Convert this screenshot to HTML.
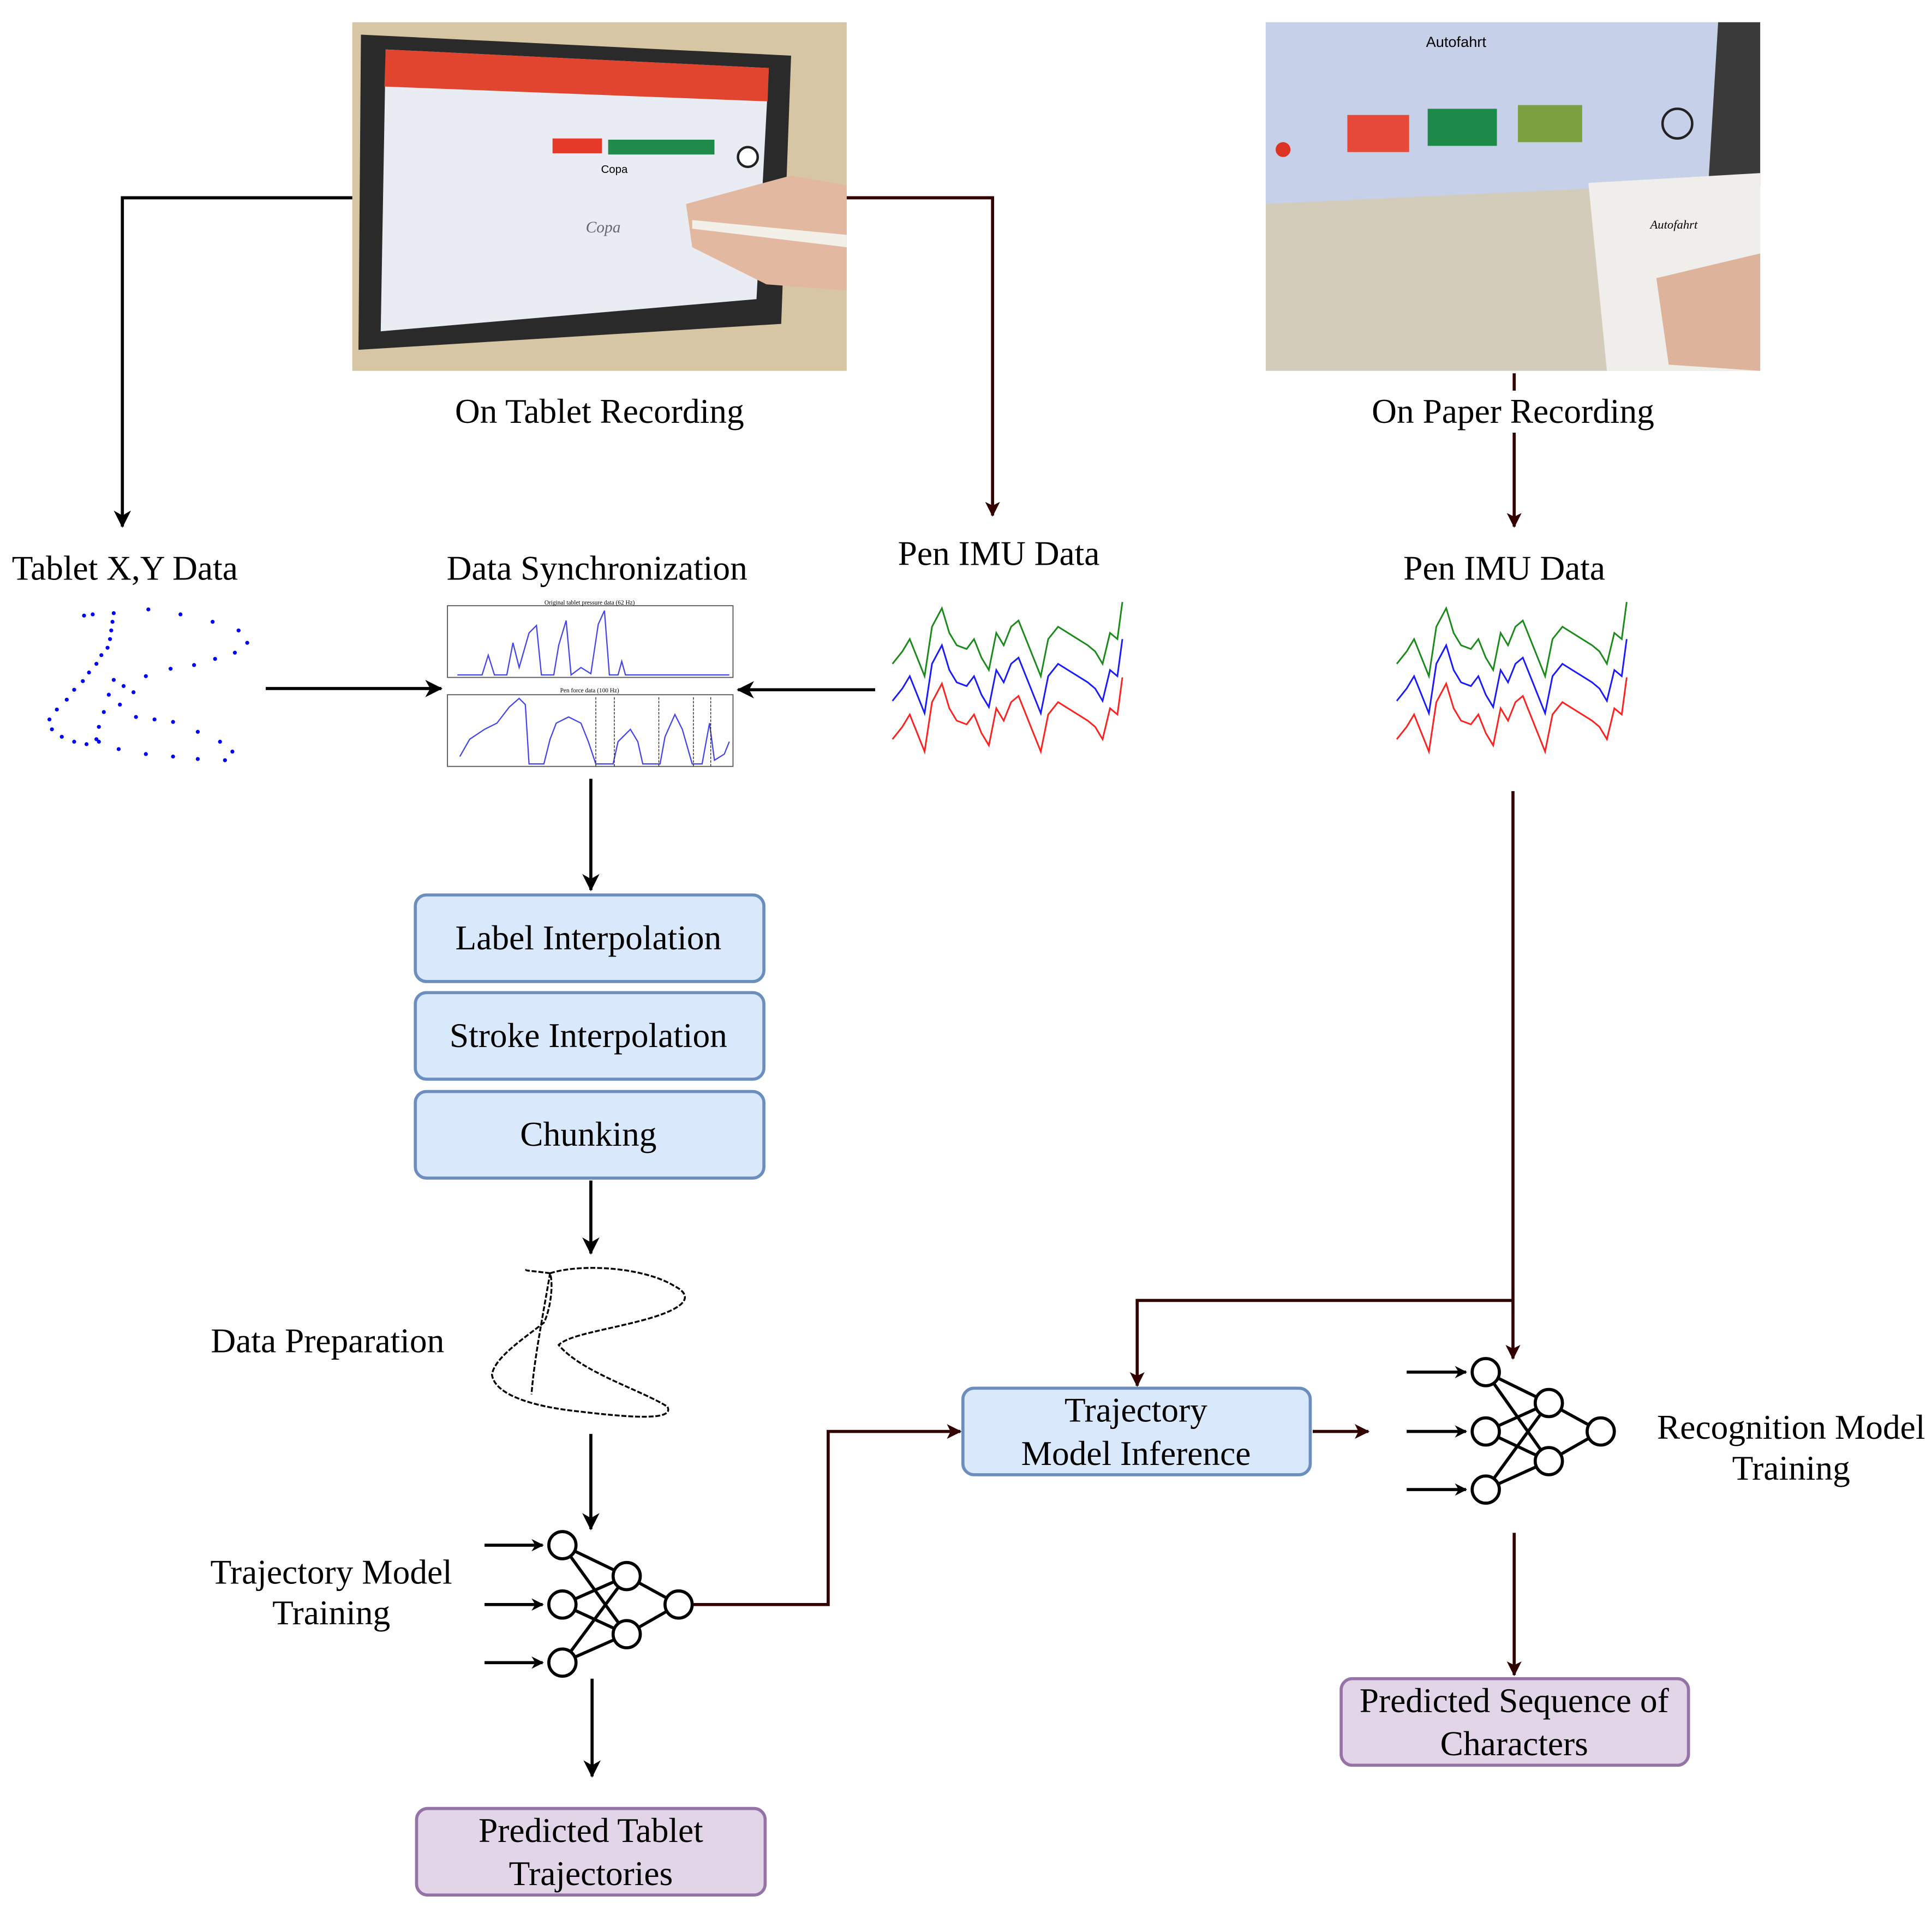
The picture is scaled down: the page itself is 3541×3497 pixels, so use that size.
<!DOCTYPE html>
<html><head><meta charset="utf-8"><style>
html,body{margin:0;padding:0;background:#fff;}
svg{display:block;}
text{font-family:"Liberation Serif",serif;fill:#000;}
</style></head><body>
<svg width="3541" height="3497" viewBox="0 0 1563 1543.5" preserveAspectRatio="none" xmlns="http://www.w3.org/2000/svg">
<defs>
<marker id="ab" markerWidth="10" markerHeight="10" refX="9" refY="5" orient="auto" markerUnits="userSpaceOnUse"><path d="M0,0 L10,5 L0,10 L3,5 z" fill="#000"/></marker>
<marker id="ar" markerWidth="12" markerHeight="12" refX="11" refY="6" orient="auto" markerUnits="userSpaceOnUse"><path d="M0,0 L12,6 L0,12 L3,6 z" fill="#330000"/></marker>
<marker id="ab2" markerWidth="14" markerHeight="14" refX="13" refY="7" orient="auto" markerUnits="userSpaceOnUse"><path d="M0,0 L14,7 L0,14 L4,7 z" fill="#000"/></marker>
<path id="sig" d="M0,50 L8,40 L14,30 L20,45 L26,60 L32,20 L40,5 L46,25 L52,35 L60,38 L66,30 L72,45 L78,55 L84,25 L90,35 L96,20 L102,15 L108,30 L114,45 L120,60 L126,30 L134,20 L142,25 L150,30 L158,35 L164,40 L170,50 L176,25 L182,30 L186,0" fill="none" stroke-width="1.3"/>
</defs>

<!-- Photo 1 -->
<rect x="285" y="18" width="400" height="282" fill="#d6c6a4"/>
<polygon points="292,28 640,45 632,262 290,283" fill="#2a2a2a"/>
<polygon points="312,40 622,55 612,242 308,268" fill="#e9ecf3"/>
<polygon points="312,40 622,55 621,82 311,70" fill="#e2452f"/>
<rect x="447" y="112" width="40" height="12" fill="#e53a2a"/>
<rect x="492" y="113" width="86" height="12" fill="#1f8a4a"/>
<text x="497" y="140" font-size="9" text-anchor="middle" style="font-family:'Liberation Sans',sans-serif">Copa</text>
<text x="488" y="188" font-size="13" text-anchor="middle" style="font-family:'Liberation Serif',serif;font-style:italic;fill:#667">Copa</text>
<polygon points="555,165 640,142 685,150 685,235 620,230 560,200" fill="#e2b8a0"/>
<polygon points="560,178 685,190 685,200 560,185" fill="#f3f0ea"/>
<circle cx="605" cy="127" r="8" fill="#fff" stroke="#222" stroke-width="2"/>

<!-- Photo 2 -->
<rect x="1024" y="18" width="400" height="282" fill="#d4ccba"/>
<polygon points="1024,18 1390,18 1382,148 1024,165" fill="#c6d0e8"/>
<polygon points="1390,18 1424,18 1424,150 1382,150" fill="#3a3a3a"/>
<text x="1178" y="38" font-size="12" text-anchor="middle" style="font-family:'Liberation Sans',sans-serif">Autofahrt</text>
<rect x="1090" y="93" width="50" height="30" fill="#e84a3a"/>
<rect x="1155" y="88" width="56" height="30" fill="#1e8a4a"/>
<rect x="1228" y="85" width="52" height="30" fill="#7aa040"/>
<circle cx="1357" cy="100" r="12" fill="none" stroke="#222" stroke-width="2"/>
<circle cx="1038" cy="121" r="6" fill="#d32"/>
<polygon points="1285,148 1424,140 1424,300 1300,300" fill="#efeeeb"/>
<text x="1335" y="185" font-size="10" fill="#333" style="font-style:italic">Autofahrt</text>
<polygon points="1340,225 1424,205 1424,300 1350,295" fill="#ddb49b"/>

<text x="485" y="342" font-size="28" text-anchor="middle">On Tablet Recording</text>
<text x="1224" y="342" font-size="28" text-anchor="middle">On Paper Recording</text>

<!-- top arrows -->
<polyline points="285,160 99,160 99,426" fill="none" stroke="#000" stroke-width="2.5" marker-end="url(#ab2)"/>
<polyline points="685,160 803,160 803,417" fill="none" stroke="#330000" stroke-width="2.5" marker-end="url(#ar)"/>
<line x1="1225" y1="302" x2="1225" y2="316" stroke="#330000" stroke-width="2.5"/>
<line x1="1225" y1="350" x2="1225" y2="426" stroke="#330000" stroke-width="2.5" marker-end="url(#ar)"/>

<text x="101" y="469" font-size="28" text-anchor="middle">Tablet X,Y Data</text>
<text x="483" y="469" font-size="28" text-anchor="middle">Data Synchronization</text>
<text x="808" y="457" font-size="28" text-anchor="middle">Pen IMU Data</text>
<text x="1217" y="469" font-size="28" text-anchor="middle">Pen IMU Data</text>

<!-- scatter -->
<g fill="#0000ff">
<circle cx="68" cy="498" r="1.6"/><circle cx="75" cy="497" r="1.6"/><circle cx="92" cy="496" r="1.6"/><circle cx="91" cy="503" r="1.6"/><circle cx="90" cy="510" r="1.6"/><circle cx="89" cy="517" r="1.6"/><circle cx="87" cy="524" r="1.6"/><circle cx="82" cy="530" r="1.6"/><circle cx="78" cy="537" r="1.6"/><circle cx="72" cy="544" r="1.6"/><circle cx="67" cy="551" r="1.6"/><circle cx="60" cy="558" r="1.6"/><circle cx="54" cy="566" r="1.6"/><circle cx="46" cy="574" r="1.6"/><circle cx="40" cy="582" r="1.6"/><circle cx="42" cy="590" r="1.6"/><circle cx="50" cy="596" r="1.6"/><circle cx="60" cy="600" r="1.6"/><circle cx="70" cy="602" r="1.6"/><circle cx="78" cy="598" r="1.6"/><circle cx="80" cy="588" r="1.6"/><circle cx="84" cy="576" r="1.6"/><circle cx="88" cy="562" r="1.6"/><circle cx="92" cy="550" r="1.6"/><circle cx="100" cy="555" r="1.6"/><circle cx="108" cy="560" r="1.6"/><circle cx="118" cy="547" r="1.6"/><circle cx="138" cy="541" r="1.6"/><circle cx="157" cy="538" r="1.6"/><circle cx="174" cy="533" r="1.6"/><circle cx="190" cy="528" r="1.6"/><circle cx="200" cy="520" r="1.6"/><circle cx="193" cy="510" r="1.6"/><circle cx="172" cy="503" r="1.6"/><circle cx="146" cy="497" r="1.6"/><circle cx="120" cy="493" r="1.6"/><circle cx="97" cy="570" r="1.6"/><circle cx="110" cy="580" r="1.6"/><circle cx="125" cy="582" r="1.6"/><circle cx="140" cy="584" r="1.6"/><circle cx="160" cy="592" r="1.6"/><circle cx="178" cy="600" r="1.6"/><circle cx="188" cy="608" r="1.6"/><circle cx="182" cy="615" r="1.6"/><circle cx="160" cy="614" r="1.6"/><circle cx="140" cy="612" r="1.6"/><circle cx="118" cy="610" r="1.6"/><circle cx="96" cy="606" r="1.6"/><circle cx="80" cy="600" r="1.6"/>
</g>
<line x1="215" y1="557" x2="357" y2="557" stroke="#000" stroke-width="2.5" marker-end="url(#ab2)"/>
<line x1="708" y1="558" x2="597" y2="558" stroke="#000" stroke-width="2.5" marker-end="url(#ab2)"/>

<!-- sync plot -->
<rect x="362" y="490" width="231" height="58" fill="none" stroke="#555" stroke-width="0.8"/>
<text x="477" y="489" font-size="5" text-anchor="middle">Original tablet pressure data (62 Hz)</text>
<polyline points="370,546 390,546 395,530 400,546 410,546 415,520 420,540 428,512 434,506 438,546 448,546 452,522 458,502 462,546 470,540 478,545 484,505 489,494 493,546 500,546 503,535 506,546 590,546" fill="none" stroke="#4444ee" stroke-width="1"/>
<rect x="362" y="562" width="231" height="58" fill="none" stroke="#555" stroke-width="0.8"/>
<text x="477" y="560" font-size="5" text-anchor="middle">Pen force data (100 Hz)</text>
<polyline points="372,612 380,598 392,590 402,585 412,572 420,565 425,570 428,618 440,618 445,598 450,585 460,580 470,585 476,600 482,618 496,618 500,600 510,590 516,600 520,618 534,618 538,596 546,578 552,590 560,618 568,618 574,585 578,615 586,610 590,600" fill="none" stroke="#4444ee" stroke-width="1"/>
<g stroke="#222" stroke-width="0.6" stroke-dasharray="2,1"><line x1="482" y1="564" x2="482" y2="620"/><line x1="497" y1="564" x2="497" y2="620"/><line x1="533" y1="564" x2="533" y2="620"/><line x1="561" y1="564" x2="561" y2="620"/><line x1="575" y1="564" x2="575" y2="620"/></g>

<!-- IMU signals -->
<use href="#sig" x="722" y="487" stroke="#1a8a1a"/>
<use href="#sig" x="722" y="517" stroke="#1a1aff"/>
<use href="#sig" x="722" y="548" stroke="#ff2020"/>
<use href="#sig" x="1130" y="487" stroke="#1a8a1a"/>
<use href="#sig" x="1130" y="517" stroke="#1a1aff"/>
<use href="#sig" x="1130" y="548" stroke="#ff2020"/>

<line x1="478" y1="630" x2="478" y2="720" stroke="#000" stroke-width="2.5" marker-end="url(#ab2)"/>

<!-- boxes -->
<g fill="#dae8fc" stroke="#6c8ebf" stroke-width="2.5">
<rect x="336" y="724" width="282" height="70" rx="9"/>
<rect x="336" y="803" width="282" height="70" rx="9"/>
<rect x="336" y="883" width="282" height="70" rx="9"/>
<rect x="779" y="1123" width="281" height="70" rx="9"/>
</g>
<text x="476" y="768" font-size="28" text-anchor="middle">Label Interpolation</text>
<text x="476" y="847" font-size="28" text-anchor="middle">Stroke Interpolation</text>
<text x="476" y="927" font-size="28" text-anchor="middle">Chunking</text>
<text x="919" y="1150" font-size="28" text-anchor="middle">Trajectory</text>
<text x="919" y="1185" font-size="28" text-anchor="middle">Model Inference</text>

<line x1="478" y1="955" x2="478" y2="1014" stroke="#000" stroke-width="2.5" marker-end="url(#ab2)"/>

<!-- scribble -->
<path d="M445,1030 C470,1022 520,1025 545,1040 C565,1050 550,1060 520,1068 C490,1076 460,1080 452,1088 C470,1110 520,1125 540,1138 C545,1148 520,1148 470,1142 C430,1138 400,1128 398,1112 C400,1098 425,1082 440,1070 C445,1060 448,1040 445,1030 C440,1060 432,1100 430,1128 M445,1030 C430,1028 424,1028 426,1027" fill="none" stroke="#000" stroke-width="1.5" stroke-dasharray="4,1.5"/>
<text x="265" y="1094" font-size="28" text-anchor="middle">Data Preparation</text>

<line x1="478" y1="1160" x2="478" y2="1237" stroke="#000" stroke-width="2.5" marker-end="url(#ab2)"/>

<!-- NN1 -->
<g stroke="#000" stroke-width="2.5" fill="none">
<line x1="392" y1="1250" x2="439" y2="1250" marker-end="url(#ab)"/>
<line x1="392" y1="1298" x2="439" y2="1298" marker-end="url(#ab)"/>
<line x1="392" y1="1345" x2="439" y2="1345" marker-end="url(#ab)"/>
<line x1="455" y1="1250" x2="507" y2="1275"/><line x1="455" y1="1250" x2="507" y2="1322"/>
<line x1="455" y1="1298" x2="507" y2="1275"/><line x1="455" y1="1298" x2="507" y2="1322"/>
<line x1="455" y1="1345" x2="507" y2="1275"/><line x1="455" y1="1345" x2="507" y2="1322"/>
<line x1="507" y1="1275" x2="549" y2="1298"/><line x1="507" y1="1322" x2="549" y2="1298"/>
</g>
<g stroke="#000" stroke-width="2.5" fill="#fff">
<circle cx="455" cy="1250" r="11"/><circle cx="455" cy="1298" r="11"/><circle cx="455" cy="1345" r="11"/>
<circle cx="507" cy="1275" r="11"/><circle cx="507" cy="1322" r="11"/><circle cx="549" cy="1298" r="11"/>
</g>
<text x="268" y="1281" font-size="28" text-anchor="middle">Trajectory Model</text>
<text x="268" y="1314" font-size="28" text-anchor="middle">Training</text>

<line x1="479" y1="1358" x2="479" y2="1437" stroke="#000" stroke-width="2.5" marker-end="url(#ab2)"/>

<g fill="#e1d5e7" stroke="#9673a6" stroke-width="2.5">
<rect x="337" y="1463" width="282" height="70" rx="9"/>
<rect x="1085" y="1358" width="281" height="70" rx="9"/>
</g>
<text x="478" y="1490" font-size="28" text-anchor="middle">Predicted Tablet</text>
<text x="478" y="1525" font-size="28" text-anchor="middle">Trajectories</text>
<text x="1225" y="1385" font-size="28" text-anchor="middle">Predicted Sequence of</text>
<text x="1225" y="1420" font-size="28" text-anchor="middle">Characters</text>

<!-- brown connectors -->
<polyline points="561,1298 670,1298 670,1158 777,1158" fill="none" stroke="#330000" stroke-width="2.5" marker-end="url(#ar)"/>
<line x1="1062" y1="1158" x2="1107" y2="1158" stroke="#330000" stroke-width="2.5" marker-end="url(#ar)"/>
<line x1="1224" y1="640" x2="1224" y2="1099" stroke="#330000" stroke-width="2.5" marker-end="url(#ar)"/>
<polyline points="1224,1052 920,1052 920,1121" fill="none" stroke="#330000" stroke-width="2.5" marker-end="url(#ar)"/>
<line x1="1225" y1="1240" x2="1225" y2="1355" stroke="#330000" stroke-width="2.5" marker-end="url(#ar)"/>

<!-- NN2 -->
<g stroke="#000" stroke-width="2.5" fill="none">
<line x1="1138" y1="1110" x2="1186" y2="1110" marker-end="url(#ab)"/>
<line x1="1138" y1="1158" x2="1186" y2="1158" marker-end="url(#ab)"/>
<line x1="1138" y1="1205" x2="1186" y2="1205" marker-end="url(#ab)"/>
<line x1="1202" y1="1110" x2="1253" y2="1135"/><line x1="1202" y1="1110" x2="1253" y2="1182"/>
<line x1="1202" y1="1158" x2="1253" y2="1135"/><line x1="1202" y1="1158" x2="1253" y2="1182"/>
<line x1="1202" y1="1205" x2="1253" y2="1135"/><line x1="1202" y1="1205" x2="1253" y2="1182"/>
<line x1="1253" y1="1135" x2="1295" y2="1158"/><line x1="1253" y1="1182" x2="1295" y2="1158"/>
</g>
<g stroke="#000" stroke-width="2.5" fill="#fff">
<circle cx="1202" cy="1110" r="11"/><circle cx="1202" cy="1158" r="11"/><circle cx="1202" cy="1205" r="11"/>
<circle cx="1253" cy="1135" r="11"/><circle cx="1253" cy="1182" r="11"/><circle cx="1295" cy="1158" r="11"/>
</g>
<text x="1449" y="1164" font-size="28" text-anchor="middle">Recognition Model</text>
<text x="1449" y="1197" font-size="28" text-anchor="middle">Training</text>
</svg>
</body></html>
